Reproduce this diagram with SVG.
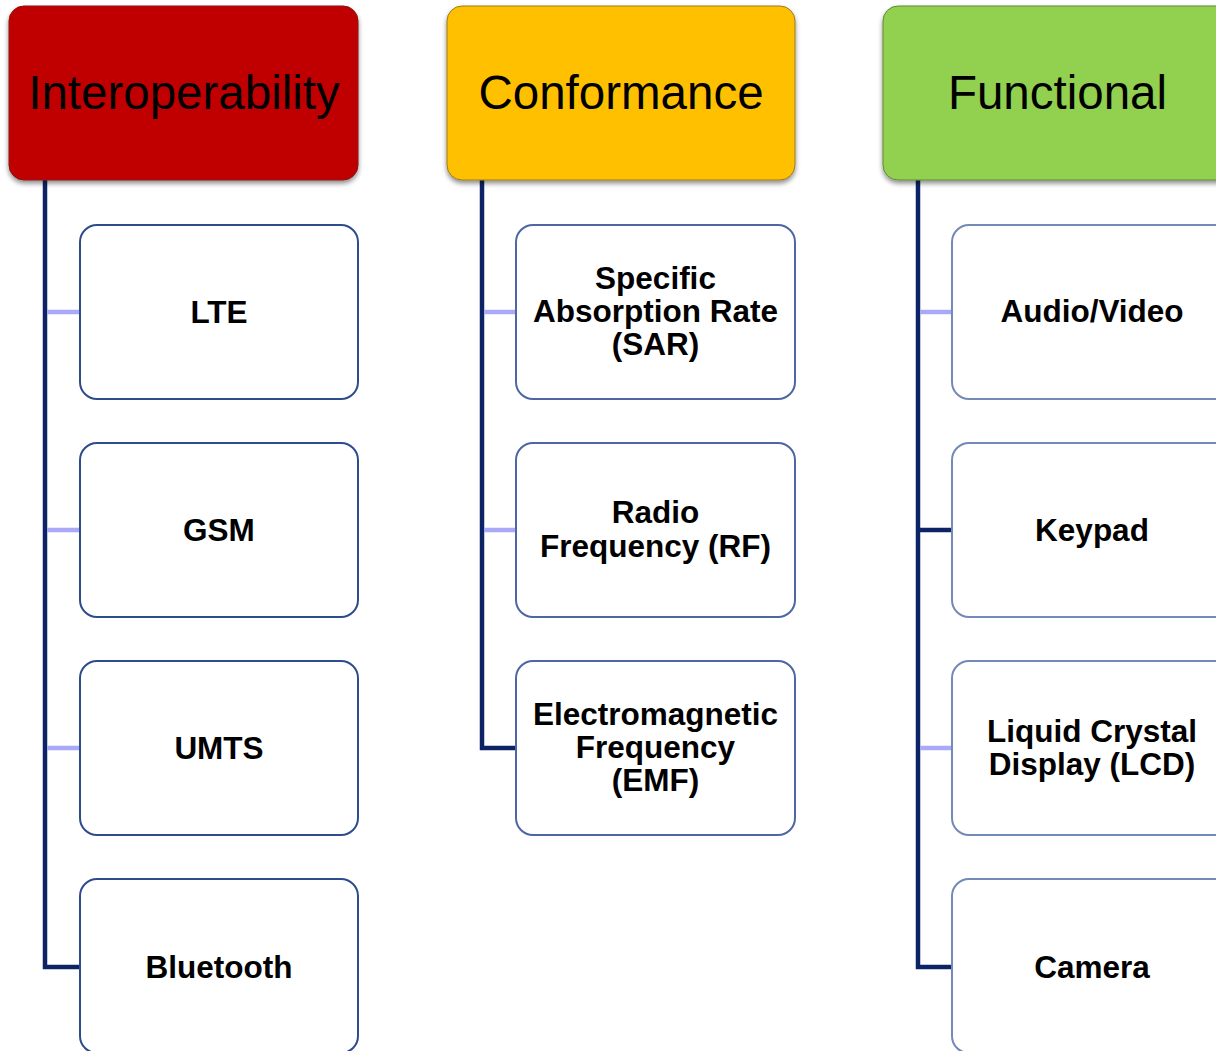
<svg xmlns="http://www.w3.org/2000/svg" width="1216" height="1051" viewBox="0 0 1216 1051">
<style>
.hdr{font-family:"Liberation Sans",Arial,sans-serif;font-size:47.5px;fill:#000;text-anchor:middle}
.lbl{font-family:"Liberation Sans",Arial,sans-serif;font-size:31.5px;font-weight:bold;fill:#000;text-anchor:middle}
.c1{fill:#fff;stroke:#2E4C8C;stroke-width:2}
.c2{fill:#fff;stroke:#4E67A2;stroke-width:2}
.c3{fill:#fff;stroke:#7389B8;stroke-width:2}
.vline{stroke:#0C2466;stroke-width:4.5;fill:none}
.lite{stroke:#A9A9F8;stroke-width:4.5}
</style>
<defs>
<filter id="sh" x="-10%" y="-10%" width="120%" height="130%">
<feGaussianBlur in="SourceAlpha" stdDeviation="2.5"/>
<feOffset dx="0" dy="3" result="b"/>
<feComponentTransfer><feFuncA type="linear" slope="0.45"/></feComponentTransfer>
<feMerge><feMergeNode/><feMergeNode in="SourceGraphic"/></feMerge>
</filter>
</defs>
<rect width="1216" height="1051" fill="#fff"/>
<g id="connectors">
<path class="vline" d="M45 180 V967 H80"/>
<line class="lite" x1="47" y1="312" x2="80" y2="312"/>
<line class="lite" x1="47" y1="530" x2="80" y2="530"/>
<line class="lite" x1="47" y1="748" x2="80" y2="748"/>
<path class="vline" d="M482 180 V748 H516"/>
<line class="lite" x1="484" y1="312" x2="516" y2="312"/>
<line class="lite" x1="484" y1="530" x2="516" y2="530"/>
<path class="vline" d="M918 180 V967 H952"/>
<line class="lite" x1="920" y1="312" x2="952" y2="312"/>
<line class="vline" x1="918" y1="530" x2="952" y2="530"/>
<line class="lite" x1="920" y1="748" x2="952" y2="748"/>
</g>
<g id="hdr-interoperability">
<rect x="9" y="6" width="349" height="174" rx="15" fill="#C00000" stroke="#8A1010" stroke-width="1" filter="url(#sh)"/>
<text class="hdr" x="184" y="109">Interoperability</text>
</g>
<g id="hdr-conformance">
<rect x="447" y="6" width="348" height="174" rx="15" fill="#FFC000" stroke="#9A7A20" stroke-width="1" filter="url(#sh)"/>
<text class="hdr" x="621" y="109">Conformance</text>
</g>
<g id="hdr-functional">
<rect x="883" y="6" width="349" height="174" rx="15" fill="#92D050" stroke="#5E8A35" stroke-width="1" filter="url(#sh)"/>
<text class="hdr" x="1057.5" y="109">Functional</text>
</g>
<g id="n-lte"><rect class="c1" x="80" y="225" width="278" height="174" rx="17"/><text class="lbl" x="219" y="323">LTE</text></g>
<g id="n-gsm"><rect class="c1" x="80" y="443" width="278" height="174" rx="17"/><text class="lbl" x="219" y="541">GSM</text></g>
<g id="n-umts"><rect class="c1" x="80" y="661" width="278" height="174" rx="17"/><text class="lbl" x="219" y="759">UMTS</text></g>
<g id="n-bluetooth"><rect class="c1" x="80" y="879" width="278" height="174" rx="17"/><text class="lbl" x="219" y="978">Bluetooth</text></g>
<g id="n-sar"><rect class="c2" x="516" y="225" width="279" height="174" rx="17"/><text class="lbl" x="655.5" y="289">Specific</text><text class="lbl" x="655.5" y="322">Absorption Rate</text><text class="lbl" x="655.5" y="355">(SAR)</text></g>
<g id="n-rf"><rect class="c2" x="516" y="443" width="279" height="174" rx="17"/><text class="lbl" x="655.5" y="523">Radio</text><text class="lbl" x="655.5" y="557">Frequency (RF)</text></g>
<g id="n-emf"><rect class="c2" x="516" y="661" width="279" height="174" rx="17"/><text class="lbl" x="655.5" y="725">Electromagnetic</text><text class="lbl" x="655.5" y="758">Frequency</text><text class="lbl" x="655.5" y="791">(EMF)</text></g>
<g id="n-av"><rect class="c3" x="952" y="225" width="279" height="174" rx="17"/><text class="lbl" x="1092" y="322">Audio/Video</text></g>
<g id="n-keypad"><rect class="c3" x="952" y="443" width="279" height="174" rx="17"/><text class="lbl" x="1092" y="541">Keypad</text></g>
<g id="n-lcd"><rect class="c3" x="952" y="661" width="279" height="174" rx="17"/><text class="lbl" x="1092" y="742">Liquid Crystal</text><text class="lbl" x="1092" y="775">Display (LCD)</text></g>
<g id="n-camera"><rect class="c3" x="952" y="879" width="279" height="174" rx="17"/><text class="lbl" x="1092" y="978">Camera</text></g>
</svg>
